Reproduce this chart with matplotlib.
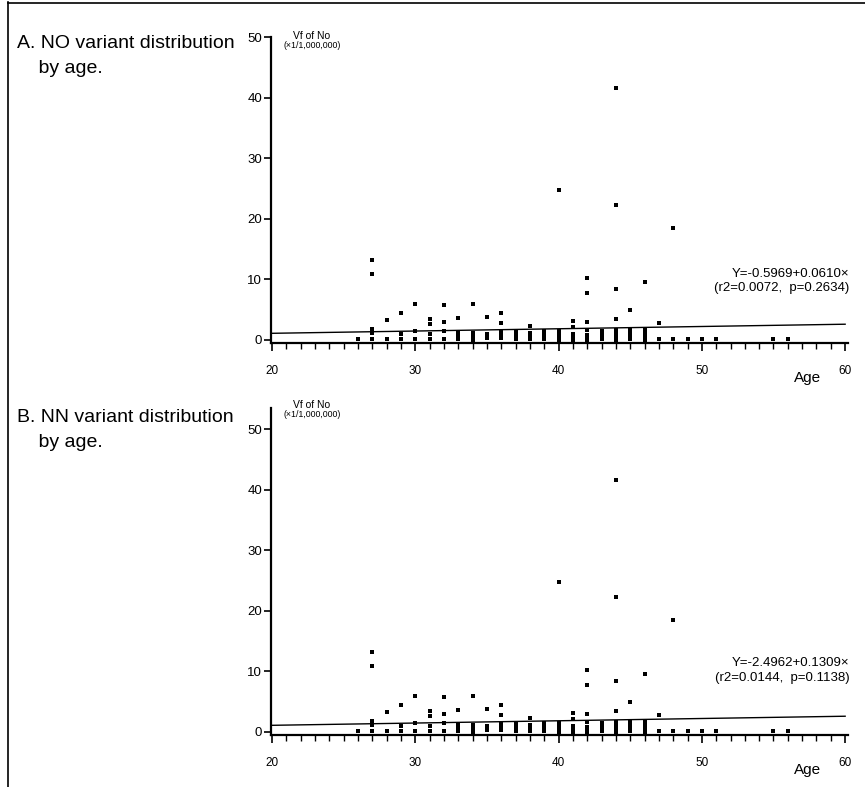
import matplotlib
matplotlib.use("Agg")
import matplotlib.pyplot as plt
from matplotlib.ticker import MultipleLocator
import numpy as np

plt.rcParams['font.family'] = ['Liberation Sans', 'DejaVu Sans']

# ---- data ----
age_groups = [26, 27, 28, 29, 30, 31, 32, 33, 34, 35, 36, 37, 38, 39, 40,
              41, 42, 43, 44, 45, 46, 47, 48, 49, 50, 51, 55, 56]
vf_groups = [
    [0.2],
    [13.2, 10.9, 1.8, 1.2, 0.2],
    [3.3, 0.2],
    [4.5, 1.0, 0.2],
    [6.0, 1.5, 0.2],
    [3.5, 2.6, 1.0, 0.2],
    [5.8, 3.0, 1.5, 0.2],
    [3.6, 1.3, 0.9, 0.5, 0.1],
    [6.0, 1.2, 0.7, 0.3, 0.0],
    [3.8, 1.0, 0.3],
    [4.5, 2.8, 1.3, 0.8, 0.3],
    [1.5, 1.0, 0.5, 0.1],
    [2.3, 1.2, 0.6, 0.1],
    [1.5, 1.0, 0.5, 0.1],
    [24.7, 1.4, 0.9, 0.4, 0.0],
    [3.2, 2.2, 1.0, 0.5, 0.0],
    [10.2, 7.8, 3.0, 1.6, 0.9, 0.4, 0.0],
    [1.5, 1.0, 0.5, 0.1],
    [41.6, 22.3, 8.4, 3.4, 1.6, 1.0, 0.5, 0.0],
    [5.0, 1.6, 1.0, 0.5, 0.1],
    [9.6, 1.8, 1.1, 0.5, 0.0],
    [2.8, 0.2],
    [18.5, 0.2],
    [0.2],
    [0.2],
    [0.2],
    [0.2],
    [0.2],
]
ages = [a for a, vs in zip(age_groups, vf_groups) for _ in vs]
vf = [v for vs in vf_groups for v in vs]

# fitted line as drawn (intercept, slope)
line_intercept = 0.35
line_slope = 0.0375

panel_titles = ["A. NO variant distribution\n    by age.", "B. NN variant distribution\n    by age."]
formulas = ["Y=-0.5969+0.0610\u00d7\n(r2=0.0072,  p=0.2634)",
            "Y=-2.4962+0.1309\u00d7\n(r2=0.0144,  p=0.1138)"]
y_ticks = [0, 10, 20, 30, 40, 50]
x_ticks = [20, 30, 40, 50, 60]

W, H = 865, 787
fig = plt.figure(figsize=(W / 100, H / 100), dpi=100)

def fx(x):
    return x / W

def fy(y):
    return 1 - y / H

# outer frame lines (left, top)
fig.add_artist(plt.Line2D([fx(8), fx(8)], [0, fy(2)], color='black', lw=1.2))
fig.add_artist(plt.Line2D([fx(8), 1], [fy(3), fy(3)], color='black', lw=1.2))

panels = [
    dict(top=37, bottom=343, ylim=(-0.5, 50), title_y=35, vf_y=41, age_y=378,
         form_xy=(60.3, 7.6)),
    dict(top=408, bottom=735, ylim=(-0.5, 53.5), title_y=409, vf_y=410, age_y=770,
         form_xy=(60.3, 8.0)),
]

left_px, right_px = 270.6, 848
for i, p in enumerate(panels):
    ax = fig.add_axes([fx(left_px), fy(p['bottom']),
                       fx(right_px) - fx(left_px), fy(p['top']) - fy(p['bottom'])])
    ax.scatter(ages, vf, marker='s', s=9, color='black', linewidths=0, zorder=3)
    xs = np.array([20, 60])
    ax.plot(xs, line_intercept + line_slope * xs, color='black', lw=1.0, zorder=2)
    ax.set_xlim(19.9, 60.2)
    ax.set_ylim(*p['ylim'])
    for s in ['top', 'right']:
        ax.spines[s].set_visible(False)
    ax.spines['left'].set_linewidth(1.6)
    ax.spines['bottom'].set_linewidth(1.6)
    ax.set_yticks(y_ticks)
    ax.set_xticks(x_ticks)
    ax.xaxis.set_minor_locator(MultipleLocator(1))
    ax.tick_params(axis='y', direction='out', length=5, width=1.2, labelsize=9.5, pad=1)
    ax.tick_params(axis='x', which='major', direction='out', length=6, width=1.2,
                   labelsize=8.5, pad=10)
    ax.tick_params(axis='x', which='minor', direction='out', length=4, width=1.0)
    ax.text(p['form_xy'][0], p['form_xy'][1], formulas[i], ha='right', va='bottom',
            fontsize=9.5, linespacing=1.25)

    fig.text(fx(17), fy(p['title_y']), panel_titles[i], ha='left', va='top',
             fontsize=14, linespacing=1.6)
    fig.text(fx(312), fy(p['vf_y']), "Vf of No", ha='center', va='bottom', fontsize=7.5)
    fig.text(fx(312), fy(p['vf_y']), "(\u00d71/1,000,000)", ha='center', va='top',
             fontsize=6.3)
    fig.text(fx(808), fy(p['age_y']), "Age", ha='center', va='center', fontsize=11)

fig.savefig("out.png", dpi=100)
